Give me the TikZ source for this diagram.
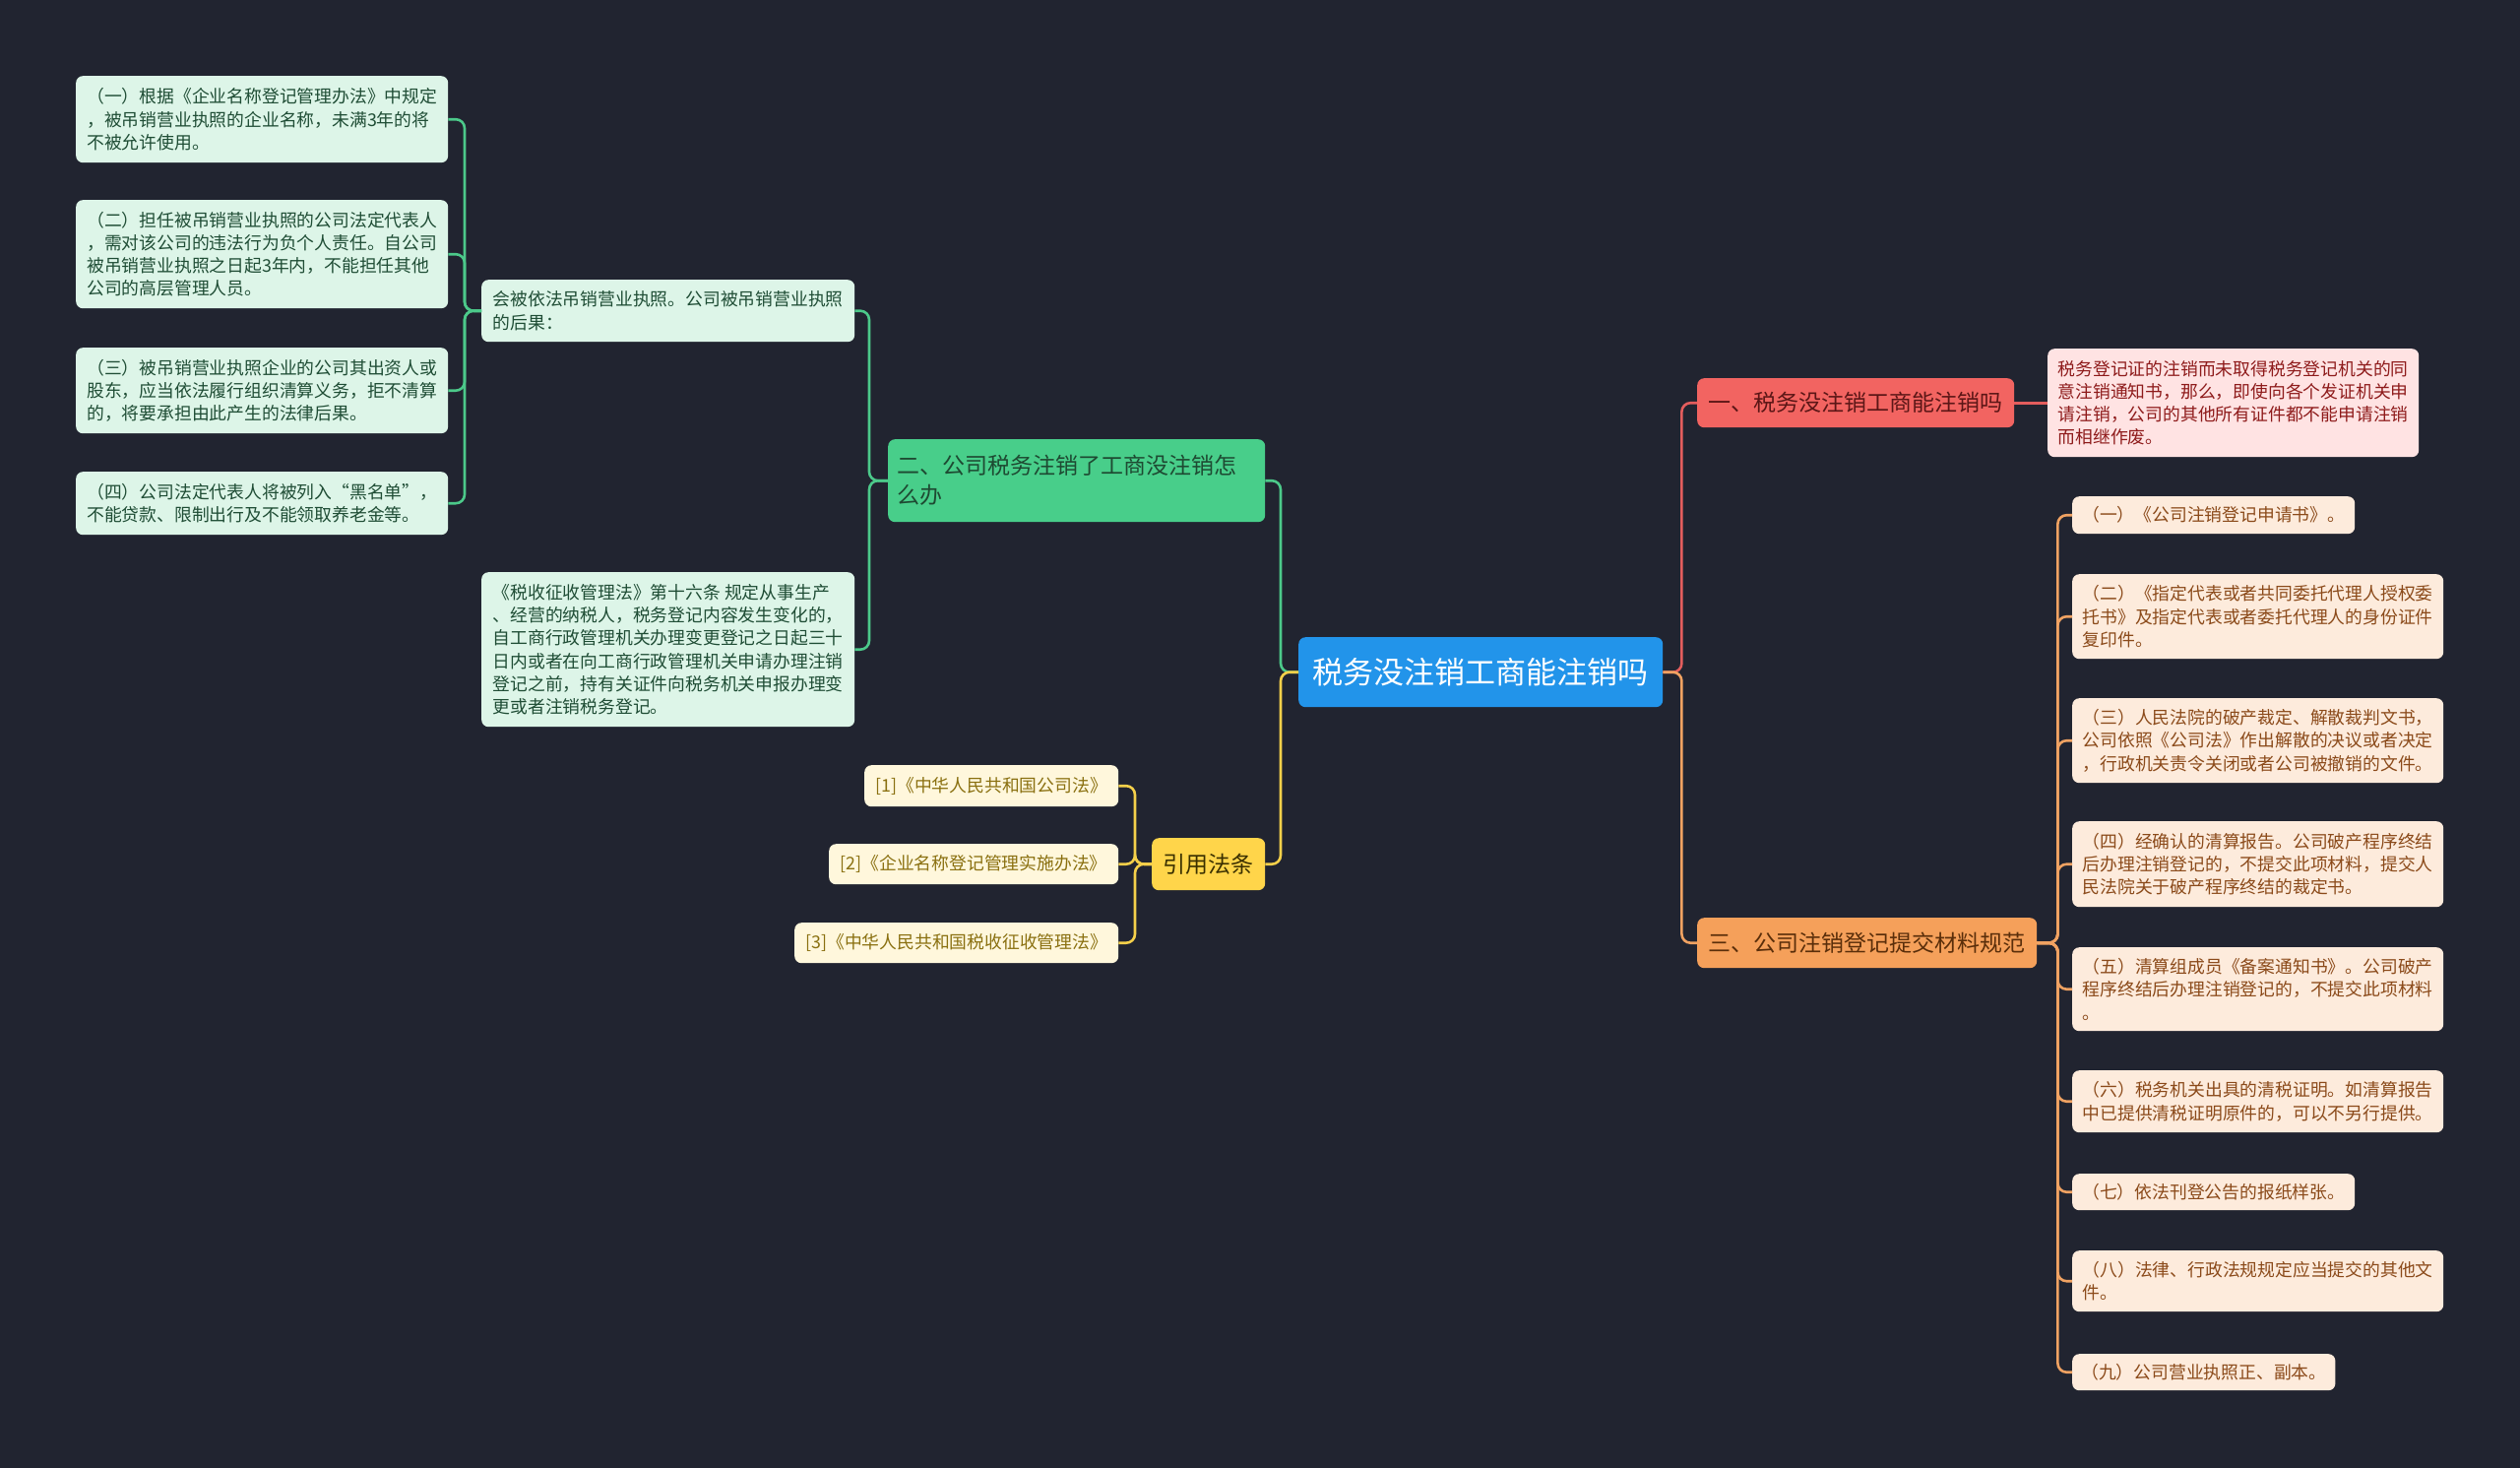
\documentclass[tikz,border=0pt]{standalone}
\usepackage{fontspec}
\setmainfont{Noto Sans CJK SC}
\usetikzlibrary{positioning}
\definecolor{bgnavy}{HTML}{212430}
\definecolor{rootblue}{HTML}{2294EA}
\definecolor{redfill}{HTML}{F26461}
\definecolor{redtext}{HTML}{5B1616}
\definecolor{redline}{HTML}{E35D5D}
\definecolor{pinkfill}{HTML}{FFE3E3}
\definecolor{pinktext}{HTML}{8E1B1B}
\definecolor{orgfill}{HTML}{F5A05A}
\definecolor{orgtext}{HTML}{5A2E0A}
\definecolor{orgline}{HTML}{F0A262}
\definecolor{peachfill}{HTML}{FDEBDC}
\definecolor{peachtext}{HTML}{8B4A1A}
\definecolor{grnfill}{HTML}{48CE8A}
\definecolor{grntext}{HTML}{1E4A32}
\definecolor{grnline}{HTML}{4CC98A}
\definecolor{mintfill}{HTML}{DDF5E8}
\definecolor{minttext}{HTML}{1F4D35}
\definecolor{ylwfill}{HTML}{FFD54A}
\definecolor{ylwtext}{HTML}{3A3000}
\definecolor{ylwline}{HTML}{F5D04A}
\definecolor{creamfill}{HTML}{FFF7DC}
\definecolor{creamtext}{HTML}{8A7010}

\begin{document}
\begin{tikzpicture}[x=1pt, y=-1pt,
  box/.style={rounded corners=7pt, inner xsep=9pt, inner ysep=0pt, anchor=north west, align=left},
  leaf/.style={box, font=\fontsize{17.8}{23.3}\selectfont},
  topic/.style={box, font=\fontsize{23}{30}\selectfont},
  mintleaf/.style={leaf, fill=mintfill, text=minttext},
  peachleaf/.style={leaf, fill=peachfill, text=peachtext},
  creamleaf/.style={leaf, fill=creamfill, text=creamtext, align=center},
  link/.style={line width=2.6pt, rounded corners=9pt}]

% Background
\fill[bgnavy] (0,0) rectangle (2560,1491);
\useasboundingbox (0,0) rectangle (2560,1491);

% Central topic
\node[box, fill=rootblue, text=white, font=\fontsize{31}{36}\selectfont,
      minimum width=370, minimum height=71] (root) at (1319,647) {税务没注销工商能注销吗};

% Branch one (red)
\node[topic, fill=redfill, text=redtext, minimum width=322, minimum height=50] (b1) at (1724,384)
  {一、税务没注销工商能注销吗};
\node[leaf, fill=pinkfill, text=pinktext, minimum width=377, minimum height=110] (b1n) at (2080,354)
  {税务登记证的注销而未取得税务登记机关的同\\意注销通知书，那么，即使向各个发证机关申\\请注销，公司的其他所有证件都不能申请注销\\而相继作废。};

% Branch three (orange)
\node[topic, fill=orgfill, text=orgtext, minimum width=345, minimum height=51] (b3) at (1724,932)
  {三、公司注销登记提交材料规范};
\node[peachleaf, minimum width=287, minimum height=38] (o1) at (2105,504) {（一）《公司注销登记申请书》。};
\node[peachleaf, minimum width=377, minimum height=86] (o2) at (2105,583)
  {（二）《指定代表或者共同委托代理人授权委\\托书》及指定代表或者委托代理人的身份证件\\复印件。};
\node[peachleaf, minimum width=377, minimum height=86] (o3) at (2105,709)
  {（三）人民法院的破产裁定、解散裁判文书，\\公司依照《公司法》作出解散的决议或者决定\\，行政机关责令关闭或者公司被撤销的文件。};
\node[peachleaf, minimum width=377, minimum height=87] (o4) at (2105,834)
  {（四）经确认的清算报告。公司破产程序终结\\后办理注销登记的，不提交此项材料，提交人\\民法院关于破产程序终结的裁定书。};
\node[peachleaf, minimum width=377, minimum height=85] (o5) at (2105,962)
  {（五）清算组成员《备案通知书》。公司破产\\程序终结后办理注销登记的，不提交此项材料\\。};
\node[peachleaf, minimum width=377, minimum height=63] (o6) at (2105,1087)
  {（六）税务机关出具的清税证明。如清算报告\\中已提供清税证明原件的，可以不另行提供。};
\node[peachleaf, minimum width=287, minimum height=37] (o7) at (2105,1192) {（七）依法刊登公告的报纸样张。};
\node[peachleaf, minimum width=377, minimum height=62] (o8) at (2105,1270)
  {（八）法律、行政法规规定应当提交的其他文\\件。};
\node[peachleaf, minimum width=267, minimum height=37] (o9) at (2105,1375) {（九）公司营业执照正、副本。};

% Branch two (green)
\node[topic, fill=grnfill, text=grntext, text width=365, minimum height=84] (b2) at (902,446)
  {二、公司税务注销了工商没注销怎\\么办};
\node[mintleaf, minimum width=379, minimum height=63] (g1) at (489,284)
  {会被依法吊销营业执照。公司被吊销营业执照\\的后果：};
\node[mintleaf, minimum width=379, minimum height=157] (g2) at (489,581)
  {《税收征收管理法》第十六条 规定从事生产\\、经营的纳税人，税务登记内容发生变化的，\\自工商行政管理机关办理变更登记之日起三十\\日内或者在向工商行政管理机关申请办理注销\\登记之前，持有关证件向税务机关申报办理变\\更或者注销税务登记。};
\node[mintleaf, minimum width=378, minimum height=88] (gl1) at (77,77)
  {（一）根据《企业名称登记管理办法》中规定\\，被吊销营业执照的企业名称，未满3年的将\\不被允许使用。};
\node[mintleaf, minimum width=378, minimum height=110] (gl2) at (77,203)
  {（二）担任被吊销营业执照的公司法定代表人\\，需对该公司的违法行为负个人责任。自公司\\被吊销营业执照之日起3年内，不能担任其他\\公司的高层管理人员。};
\node[mintleaf, minimum width=378, minimum height=87] (gl3) at (77,353)
  {（三）被吊销营业执照企业的公司其出资人或\\股东，应当依法履行组织清算义务，拒不清算\\的，将要承担由此产生的法律后果。};
\node[mintleaf, minimum width=378, minimum height=64] (gl4) at (77,479)
  {（四）公司法定代表人将被列入“黑名单”，\\不能贷款、限制出行及不能领取养老金等。};

% Branch four (yellow)
\node[topic, fill=ylwfill, text=ylwtext, minimum width=115, minimum height=53] (b4) at (1170,851) {引用法条};
\node[creamleaf, minimum width=258, minimum height=42] (c1) at (878,777) {[1]《中华人民共和国公司法》};
\node[creamleaf, minimum width=294, minimum height=41] (c2) at (842,857) {[2]《企业名称登记管理实施办法》};
\node[creamleaf, minimum width=329, minimum height=41] (c3) at (807,937) {[3]《中华人民共和国税收征收管理法》};

% Connectors
\draw[link, redline] (root.east) -- ++(19,0) |- (b1.west);
\draw[link, redline] (b1.east) -- (b1n.west);
\draw[link, orgline] (root.east) -- ++(19,0) |- (b3.west);
\foreach \i in {1,...,9}
  \draw[link, orgline] (b3.east) -- ++(21,0) |- (o\i.west);
\draw[link, grnline] (root.west) -- ++(-18,0) |- (b2.east);
\draw[link, grnline] (b2.west) -- ++(-19,0) |- (g1.east);
\draw[link, grnline] (b2.west) -- ++(-19,0) |- (g2.east);
\foreach \i in {1,...,4}
  \draw[link, grnline] (g1.west) -- ++(-17,0) |- (gl\i.east);
\draw[link, ylwline] (root.west) -- ++(-18,0) |- (b4.east);
\foreach \i in {1,2,3}
  \draw[link, ylwline] (b4.west) -- ++(-17,0) |- (c\i.east);

\end{tikzpicture}
\end{document}
